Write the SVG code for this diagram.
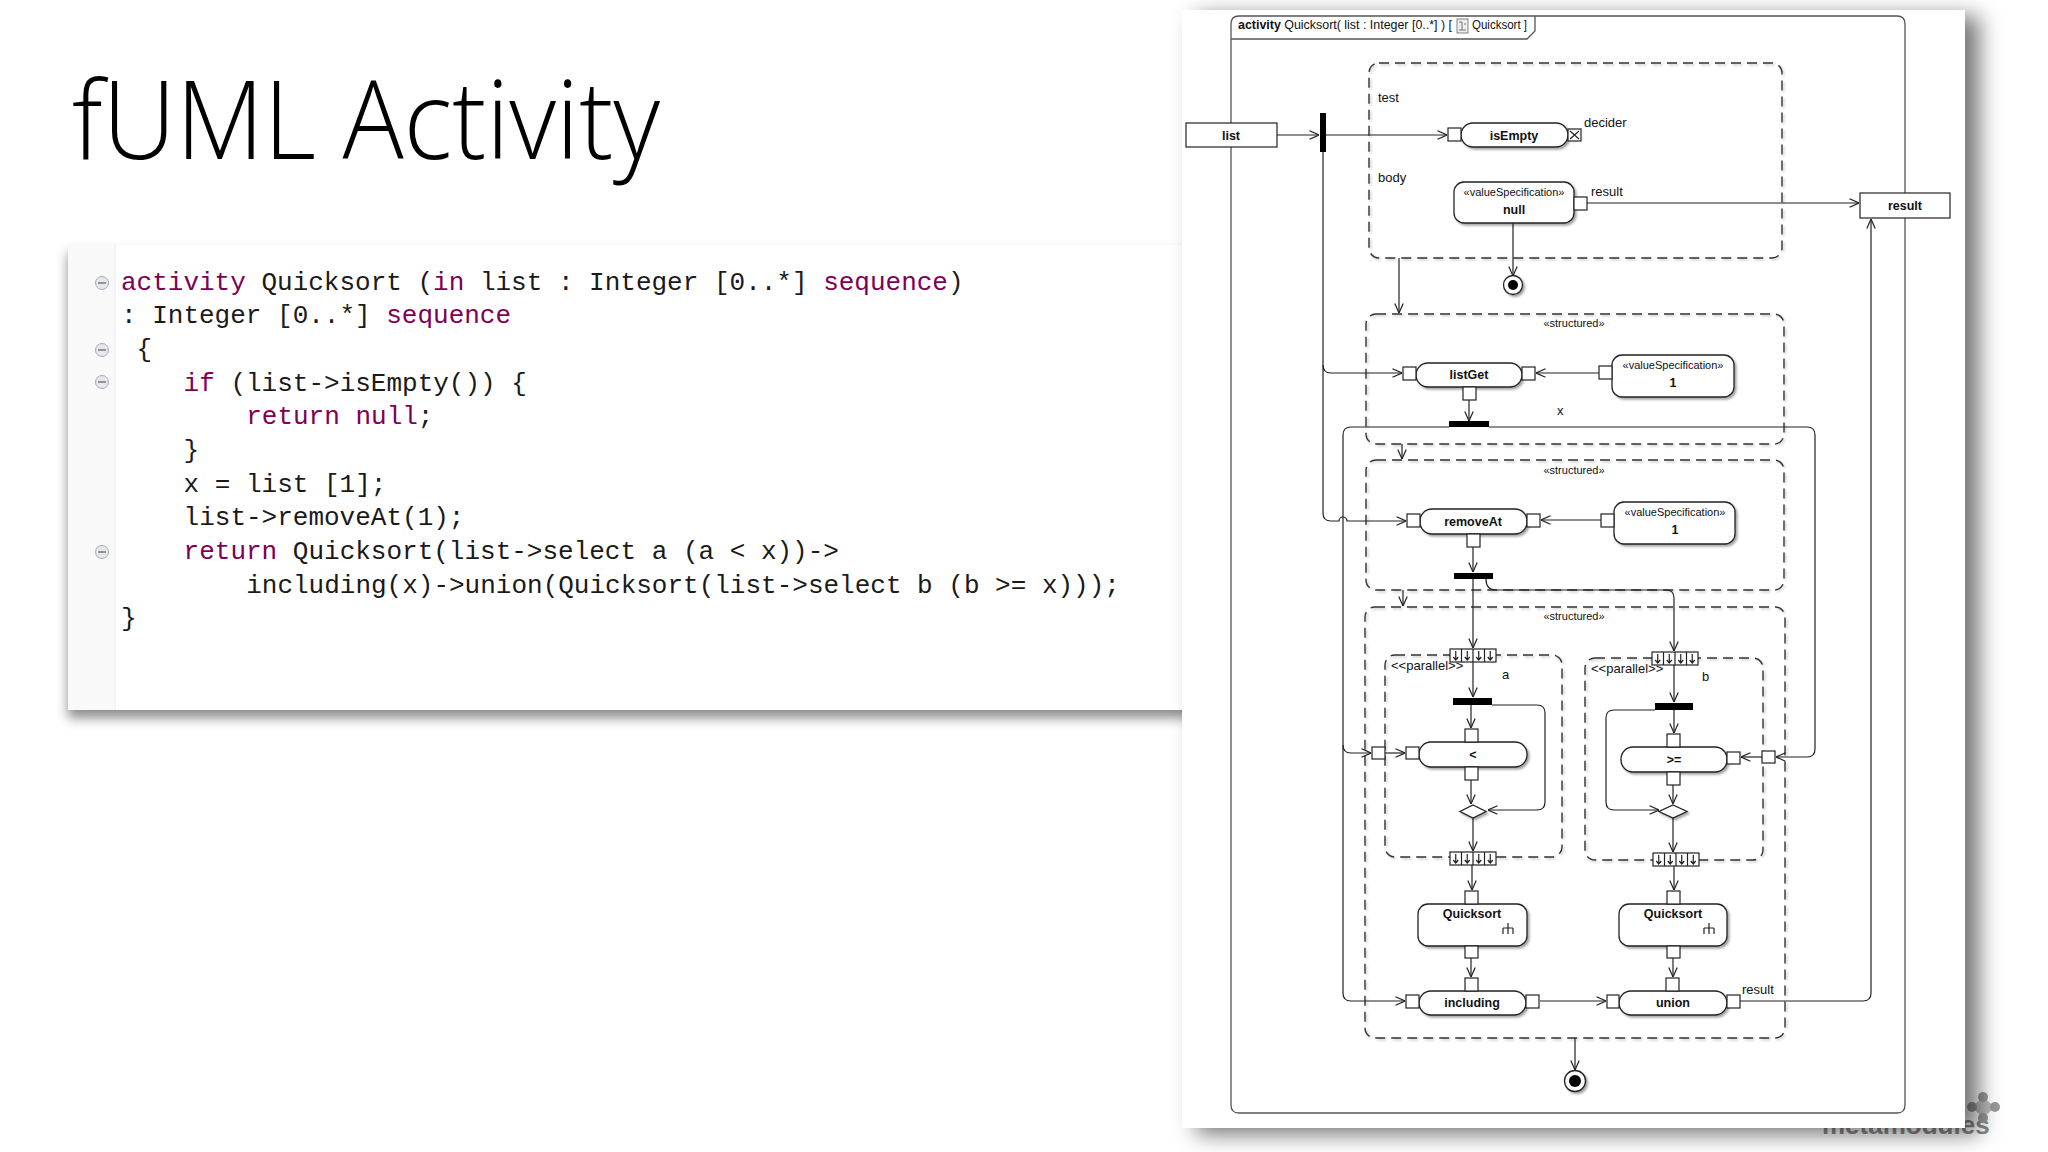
<svg xmlns="http://www.w3.org/2000/svg" xmlns:xlink="http://www.w3.org/1999/xlink" width="2048" height="1152" viewBox="0 0 2048 1152">
<defs>
<style>
.ln{fill:none;stroke:#222;stroke-width:1.2}
.ar{marker-end:url(#ah)}
.nd{fill:#fff;stroke:#222;stroke-width:1.3;filter:url(#ns)}
.pin{fill:#fff;stroke:#222;stroke-width:1.2}
.ds{fill:none;stroke:#333;stroke-width:1.4;stroke-dasharray:10 6;filter:url(#ds)}
.bar{fill:#000}
.t{font-family:"Liberation Sans",Arial,sans-serif;font-size:13px;fill:#111}
.b{font-weight:bold;text-anchor:middle;font-size:12.5px}
.st{font-size:11px;text-anchor:middle}
.code{font-family:"Liberation Mono","DejaVu Sans Mono",monospace;font-size:26px;fill:#1a1a1a}
.kw{fill:#7f0055}
.fold{fill:#e6e8ee;stroke:#a8adb8;stroke-width:1}
</style>
<marker id="ah" viewBox="0 0 10 10" refX="10" refY="5" markerWidth="10" markerHeight="10" markerUnits="userSpaceOnUse" orient="auto">
<path d="M0.5,0.8 L10,5 L0.5,9.2" fill="none" stroke="#222" stroke-width="1.2"/>
</marker>
<filter id="ns" x="-10%" y="-20%" width="130%" height="150%">
<feDropShadow dx="2" dy="2" stdDeviation="1" flood-color="#000" flood-opacity="0.35"/>
</filter>
<filter id="ds" x="-5%" y="-5%" width="110%" height="110%">
<feDropShadow dx="1.5" dy="1.5" stdDeviation="0.8" flood-color="#000" flood-opacity="0.25"/>
</filter>
<filter id="ps" x="-10%" y="-10%" width="125%" height="125%">
<feDropShadow dx="14" dy="6" stdDeviation="11" flood-color="#000" flood-opacity="0.55"/>
</filter>
<filter id="cs" x="-10%" y="-10%" width="120%" height="130%">
<feDropShadow dx="0" dy="8" stdDeviation="6" flood-color="#000" flood-opacity="0.45"/>
</filter>
<g id="exn">
<rect x="0" y="0" width="46" height="13" class="pin"/>
<path d="M11.5,0V13M23,0V13M34.5,0V13" class="ln" stroke-width="1"/>
<path d="M5.75,2V11M3.25,8L5.75,11L8.25,8M17.25,2V11M14.75,8L17.25,11L19.75,8M28.75,2V11M26.25,8L28.75,11L31.25,8M40.25,2V11M37.75,8L40.25,11L42.75,8" class="ln" stroke-width="1"/>
</g>
<g id="rake">
<path d="M0,-6V5M-5,-1H5M-5,-1V5M5,-1V5" class="ln" stroke-width="1.2"/>
</g>
</defs>

<rect x="0" y="0" width="2048" height="1152" fill="#fff"/>

<!-- title -->
<g id="title">
<text x="72" y="159" font-family="'Open Sans','Noto Sans',sans-serif" font-weight="300" font-size="108" fill="#000" textLength="588" lengthAdjust="spacingAndGlyphs">fUML Activity</text>
</g>

<!-- watermark (mostly behind panel) -->
<g id="watermark" fill="#999">
<text x="1822" y="1134" font-family="'Liberation Sans',Arial,sans-serif" font-weight="bold" font-size="26" fill="#8a8a8a">metamodules</text>
<path d="M1983,1097 L1995,1107 L1983,1118 L1972,1107 Z" fill="#bbb"/>
<circle cx="1983" cy="1097" r="5"/><circle cx="1972" cy="1107" r="5"/><circle cx="1995" cy="1107" r="5"/><circle cx="1983" cy="1118" r="5"/>
</g>

<!-- code panel -->
<g id="code-panel">
<rect x="68" y="245" width="1138" height="465" fill="#fff" filter="url(#cs)"/>
<rect x="68" y="245" width="47" height="465" fill="#f9f9f9"/>
<path d="M115,245V710" stroke="#ececec" stroke-width="1"/>
<g id="folds">
<circle cx="102" cy="283" r="6.5" class="fold"/><path d="M98,283H106" stroke="#666" stroke-width="1.3"/>
<circle cx="102" cy="350" r="6.5" class="fold"/><path d="M98,350H106" stroke="#666" stroke-width="1.3"/>
<circle cx="102" cy="382" r="6.5" class="fold"/><path d="M98,382H106" stroke="#666" stroke-width="1.3"/>
<circle cx="102" cy="552" r="6.5" class="fold"/><path d="M98,552H106" stroke="#666" stroke-width="1.3"/>
</g>
<g class="code" xml:space="preserve">
<text x="121" y="290"><tspan class="kw">activity</tspan> Quicksort (<tspan class="kw">in</tspan> list : Integer [0..*] <tspan class="kw">sequence</tspan>)</text>
<text x="121" y="323">: Integer [0..*] <tspan class="kw">sequence</tspan></text>
<text x="136.6" y="357">{</text>
<text x="183.6" y="391"><tspan class="kw">if</tspan> (list-&gt;isEmpty()) {</text>
<text x="246.2" y="424"><tspan class="kw">return</tspan> <tspan class="kw">null</tspan>;</text>
<text x="183.6" y="458">}</text>
<text x="183.6" y="492">x = list [1];</text>
<text x="183.6" y="525">list-&gt;removeAt(1);</text>
<text x="183.6" y="559"><tspan class="kw">return</tspan> Quicksort(list-&gt;select a (a &lt; x))-&gt;</text>
<text x="246.2" y="593">including(x)-&gt;union(Quicksort(list-&gt;select b (b &gt;= x)));</text>
<text x="121" y="626">}</text>
</g>
</g>

<!-- diagram panel -->
<rect x="1182" y="10" width="783" height="1118" fill="#fff" filter="url(#ps)"/>

<g id="frame">
<path d="M1231,1105V24Q1231,16 1239,16H1897Q1905,16 1905,24V1105Q1905,1113 1897,1113H1239Q1231,1113 1231,1105Z" fill="none" stroke="#555" stroke-width="1.3"/>
<path d="M1231,39H1527L1535,31V16" fill="none" stroke="#555" stroke-width="1.3"/>
<text class="t" x="1238" y="29" font-size="12" textLength="214" lengthAdjust="spacingAndGlyphs"><tspan font-weight="bold">activity</tspan>  Quicksort( list : Integer [0..*] ) [</text>
<rect x="1457" y="19" width="11" height="14" fill="#eee" stroke="#666" stroke-width="0.8"/>
<path d="M1459,22H1462M1462,22V30M1459,30H1466M1464,24H1466" stroke="#555" stroke-width="0.8" fill="none"/>
<text class="t" x="1472" y="29" font-size="12" textLength="55" lengthAdjust="spacingAndGlyphs">Quicksort ]</text>
</g>

<!-- regions -->
<g id="conditional">
<rect x="1369" y="63" width="413" height="195" rx="10" class="ds"/>
<path d="M1372,165H1780" class="ds"/>
<text class="t" x="1378" y="102">test</text>
<text class="t" x="1378" y="182">body</text>
</g>
<g id="structured1">
<rect x="1366" y="314" width="418" height="130" rx="10" class="ds"/>
<text class="t st" x="1574" y="327">«structured»</text>
</g>
<g id="structured2">
<rect x="1366" y="460" width="418" height="130" rx="10" class="ds"/>
<text class="t st" x="1574" y="474">«structured»</text>
</g>
<g id="structured3">
<rect x="1365" y="607" width="420" height="431" rx="10" class="ds"/>
<text class="t st" x="1574" y="620">«structured»</text>
</g>
<g id="region-a">
<rect x="1385" y="655" width="177" height="202" rx="10" class="ds"/>
<text class="t" x="1391" y="670">&lt;&lt;parallel&gt;&gt;</text>
<text class="t" x="1502" y="679">a</text>
</g>
<g id="region-b">
<rect x="1585" y="658" width="178" height="202" rx="10" class="ds"/>
<text class="t" x="1591" y="673">&lt;&lt;parallel&gt;&gt;</text>
<text class="t" x="1702" y="681">b</text>
</g>

<!-- connectors -->
<g id="connectors" class="ln">
<path class="ar" d="M1277,135H1319"/>
<path class="ar" d="M1326,135H1447"/>
<path class="ar" d="M1587,203H1859"/>
<path class="ar" d="M1513,223V276"/>
<path class="ar" d="M1399,258V313"/>
<path class="ar" d="M1323,152V365Q1323,373 1331,373H1402"/>
<path class="ar" d="M1323,365V513Q1323,521 1331,521H1339A4,4 0 0 1 1347,521H1406"/>
<path class="ar" d="M1599,373H1536"/>
<path class="ar" d="M1469,400V421"/>
<path d="M1449,427H1351Q1343,427 1343,435V745"/>
<path class="ar" d="M1343,745Q1343,753 1351,753H1371"/>
<path class="ar" d="M1343,745V993Q1343,1001 1351,1001H1405"/>
<path class="ar" d="M1489,427H1807Q1815,427 1815,435V749Q1815,757 1807,757H1776"/>
<path class="ar" d="M1402,444V459"/>
<path class="ar" d="M1601,520H1541"/>
<path class="ar" d="M1473,547V572"/>
<path class="ar" d="M1473,579V648"/>
<path class="ar" d="M1486,579Q1486,590 1496,590H1666Q1674,590 1674,598V651"/>
<path class="ar" d="M1403,590V606"/>
<path class="ar" d="M1473,662V697"/>
<path class="ar" d="M1471,705V728"/>
<path class="ar" d="M1492,705H1537Q1545,705 1545,713V802Q1545,810 1537,810H1488"/>
<path class="ar" d="M1385,753H1405"/>
<path class="ar" d="M1471,780V804"/>
<path class="ar" d="M1473,818V851"/>
<path class="ar" d="M1472,864V890"/>
<path class="ar" d="M1674,665V702"/>
<path class="ar" d="M1674,710V733"/>
<path class="ar" d="M1655,710H1614Q1606,710 1606,718V802Q1606,810 1614,810H1659"/>
<path class="ar" d="M1762,757H1741"/>
<path class="ar" d="M1673,785V804"/>
<path class="ar" d="M1673,818V852"/>
<path class="ar" d="M1674,866V890"/>
<path class="ar" d="M1471,958V977"/>
<path class="ar" d="M1673,958V977"/>
<path class="ar" d="M1540,1001H1606"/>
<path class="ar" d="M1740,1001H1863Q1871,1001 1871,993V219"/>
<path class="ar" d="M1575,1038V1070"/>
</g>

<!-- nodes -->
<g id="param-list">
<rect x="1186" y="123" width="91" height="24" class="pin"/>
<text class="t b" x="1231" y="140">list</text>
</g>
<g id="param-result">
<rect x="1860" y="193" width="90" height="25" class="pin"/>
<text class="t b" x="1905" y="210">result</text>
</g>
<g id="fork-list"><rect x="1320" y="113" width="6" height="39" class="bar"/></g>

<g id="isEmpty">
<rect x="1461" y="123" width="107" height="24" rx="12" class="nd"/>
<rect x="1448" y="128" width="13" height="13" class="pin"/>
<rect x="1568" y="129" width="13" height="12" class="pin"/>
<path d="M1570,131L1579,139M1579,131L1570,139" class="ln" stroke-width="1"/>
<text class="t b" x="1514" y="140">isEmpty</text>
<text class="t" x="1584" y="127">decider</text>
</g>

<g id="null-spec">
<rect x="1454" y="182" width="120" height="41" rx="10" class="nd"/>
<rect x="1574" y="197" width="13" height="13" class="pin"/>
<text class="t st" x="1514" y="196">«valueSpecification»</text>
<text class="t b" x="1514" y="214">null</text>
<text class="t" x="1591" y="196">result</text>
</g>

<g id="final1">
<circle cx="1513" cy="285" r="9.5" fill="#fff" stroke="#222" stroke-width="1.3" filter="url(#ns)"/>
<circle cx="1513" cy="285" r="5" fill="#000"/>
</g>

<g id="listGet">
<rect x="1416" y="363" width="106" height="24" rx="12" class="nd"/>
<rect x="1403" y="367" width="13" height="13" class="pin"/>
<rect x="1522" y="367" width="13" height="13" class="pin"/>
<rect x="1463" y="387" width="13" height="13" class="pin"/>
<text class="t b" x="1469" y="379">listGet</text>
</g>
<g id="spec1a">
<rect x="1612" y="355" width="122" height="42" rx="10" class="nd"/>
<rect x="1599" y="366" width="13" height="13" class="pin"/>
<text class="t st" x="1673" y="369">«valueSpecification»</text>
<text class="t b" x="1673" y="387">1</text>
</g>
<g id="fork-x">
<rect x="1449" y="421" width="40" height="6" class="bar"/>
<text class="t" x="1557" y="415">x</text>
</g>

<g id="removeAt">
<rect x="1420" y="509" width="107" height="25" rx="12" class="nd"/>
<rect x="1407" y="514" width="13" height="13" class="pin"/>
<rect x="1527" y="514" width="13" height="13" class="pin"/>
<rect x="1467" y="534" width="13" height="13" class="pin"/>
<text class="t b" x="1473" y="526">removeAt</text>
</g>
<g id="spec1b">
<rect x="1614" y="502" width="121" height="42" rx="10" class="nd"/>
<rect x="1601" y="514" width="13" height="13" class="pin"/>
<text class="t st" x="1675" y="516">«valueSpecification»</text>
<text class="t b" x="1675" y="534">1</text>
</g>
<g id="fork-list2"><rect x="1454" y="573" width="39" height="6" class="bar"/></g>

<g id="exp-in-a"><use xlink:href="#exn" x="1450" y="649"/></g>
<g id="fork-a"><rect x="1453" y="698" width="39" height="7" class="bar"/></g>
<g id="less">
<rect x="1419" y="742" width="108" height="25" rx="12" class="nd"/>
<rect x="1465" y="729" width="13" height="13" class="pin"/>
<rect x="1406" y="747" width="13" height="12" class="pin"/>
<rect x="1465" y="767" width="13" height="13" class="pin"/>
<text class="t b" x="1473" y="759">&lt;</text>
</g>
<g id="bpin-a"><rect x="1372" y="747" width="13" height="12" class="pin"/></g>
<g id="merge-a"><path d="M1473,805L1486,811.5L1473,818L1460,811.5Z" class="nd"/></g>
<g id="exp-out-a"><use xlink:href="#exn" x="1450" y="852"/></g>

<g id="exp-in-b"><use xlink:href="#exn" x="1652" y="652"/></g>
<g id="fork-b"><rect x="1655" y="703" width="38" height="7" class="bar"/></g>
<g id="geq">
<rect x="1621" y="747" width="106" height="25" rx="12" class="nd"/>
<rect x="1667" y="734" width="13" height="13" class="pin"/>
<rect x="1727" y="752" width="13" height="12" class="pin"/>
<rect x="1667" y="772" width="13" height="13" class="pin"/>
<text class="t b" x="1674" y="764">&gt;=</text>
</g>
<g id="bpin-b"><rect x="1762" y="751" width="13" height="12" class="pin"/></g>
<g id="merge-b"><path d="M1673,805L1687,811.5L1673,818L1659,811.5Z" class="nd"/></g>
<g id="exp-out-b"><use xlink:href="#exn" x="1653" y="853"/></g>

<g id="quicksort-a">
<rect x="1418" y="904" width="109" height="42" rx="10" class="nd"/>
<rect x="1465" y="891" width="13" height="13" class="pin"/>
<rect x="1465" y="946" width="13" height="12" class="pin"/>
<text class="t b" x="1472" y="918">Quicksort</text>
<use xlink:href="#rake" x="1508" y="929"/>
</g>
<g id="quicksort-b">
<rect x="1619" y="904" width="108" height="42" rx="10" class="nd"/>
<rect x="1667" y="891" width="13" height="13" class="pin"/>
<rect x="1667" y="946" width="13" height="12" class="pin"/>
<text class="t b" x="1673" y="918">Quicksort</text>
<use xlink:href="#rake" x="1709" y="929"/>
</g>

<g id="including">
<rect x="1419" y="991" width="107" height="24" rx="12" class="nd"/>
<rect x="1465" y="978" width="13" height="13" class="pin"/>
<rect x="1406" y="995" width="13" height="13" class="pin"/>
<rect x="1526" y="995" width="13" height="13" class="pin"/>
<text class="t b" x="1472" y="1007">including</text>
</g>
<g id="union">
<rect x="1619" y="991" width="108" height="24" rx="12" class="nd"/>
<rect x="1666" y="978" width="13" height="13" class="pin"/>
<rect x="1607" y="995" width="12" height="13" class="pin"/>
<rect x="1727" y="995" width="13" height="13" class="pin"/>
<text class="t b" x="1673" y="1007">union</text>
<text class="t" x="1742" y="994">result</text>
</g>

<g id="final2">
<circle cx="1575" cy="1081" r="10.5" fill="#fff" stroke="#222" stroke-width="1.3" filter="url(#ns)"/>
<circle cx="1575" cy="1081" r="6" fill="#000"/>
</g>
</svg>
